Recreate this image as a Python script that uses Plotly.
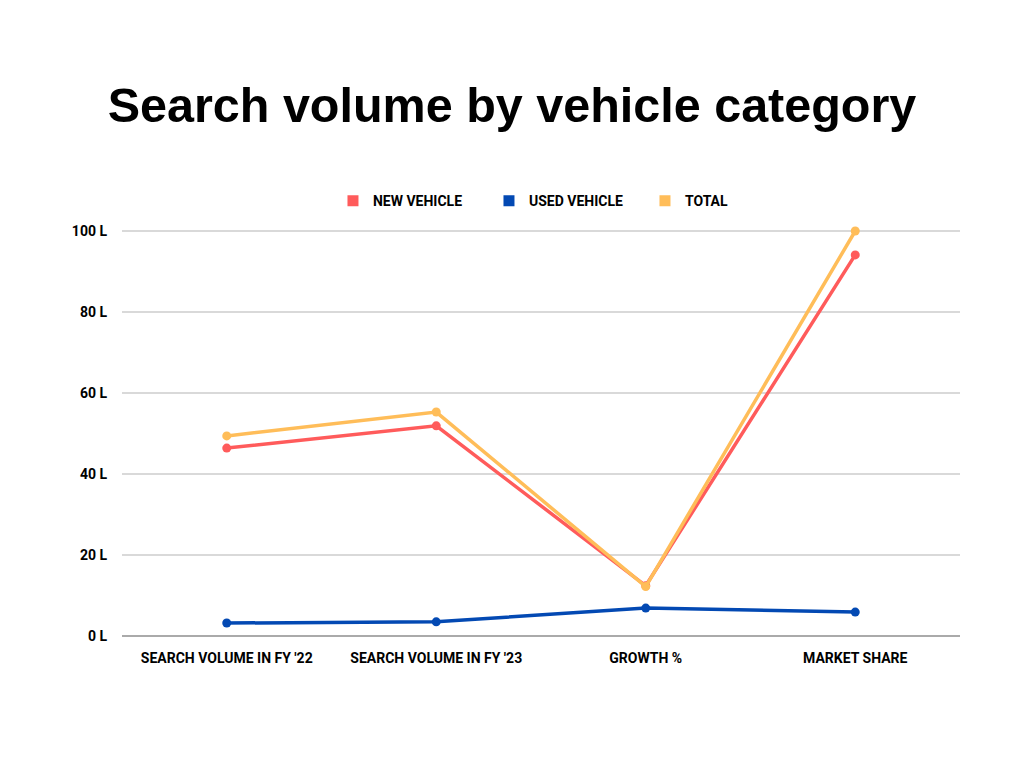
import plotly.graph_objects as go

categories = ["SEARCH VOLUME IN FY '22", "SEARCH VOLUME IN FY '23", "GROWTH %", "MARKET SHARE"]
new_vehicle = [46.4, 51.9, 12.4, 94.1]
used_vehicle = [3.2, 3.5, 6.9, 5.9]
total = [49.4, 55.3, 12.2, 100.0]
y_ticks = [0, 20, 40, 60, 80, 100]
y_tick_labels = ["0 L", "20 L", "40 L", "60 L", "80 L", "100 L"]

FONT = "Roboto, Liberation Sans, sans-serif"
series = [
    ("NEW VEHICLE", new_vehicle, "#ff5b5b"),
    ("USED VEHICLE", used_vehicle, "#0349b3"),
    ("TOTAL", total, "#ffbd59"),
]

fig = go.Figure()
for name, vals, color in series:
    fig.add_trace(go.Scatter(
        x=categories, y=vals, mode="lines+markers", name=name,
        line=dict(color=color, width=3.5), marker=dict(color=color, size=9),
        showlegend=False, cliponaxis=False, hoverinfo="x+y+name"))
for name, vals, color in series:
    fig.add_trace(go.Scatter(
        x=[None], y=[None], mode="markers", name=name,
        marker=dict(color=color, size=11, symbol="square"), showlegend=True))

fig.update_layout(
    width=1024, height=768,
    paper_bgcolor="white", plot_bgcolor="white",
    margin=dict(l=122, r=64, t=230, b=132),
    title=dict(text="<b>Search volume by vehicle category</b>", x=0.5, xanchor="center",
               y=0.863, yanchor="middle",
               font=dict(family="Liberation Sans, Arial, sans-serif", size=48.5, color="black")),
    legend=dict(orientation="h", x=0.531, xanchor="center", y=1.071, yanchor="middle",
                font=dict(family=FONT, size=14, color="black", weight="bold"),
                itemwidth=30, entrywidth=111, tracegroupgap=0),
    font=dict(family=FONT, color="black"),
)
fig.update_xaxes(type="category", range=[-0.5, 3.5], showgrid=False, ticks="",
                 showline=False, zeroline=False, ticklabelstandoff=12,
                 tickfont=dict(family=FONT, size=14, color="black", weight="bold"))
fig.update_yaxes(range=[0, 100.25], tickvals=y_ticks, ticktext=y_tick_labels,
                 showgrid=True, gridcolor="#d9d9d9", gridwidth=1.5,
                 zeroline=True, zerolinecolor="#aaaaaa", zerolinewidth=2,
                 ticks="", ticklabelstandoff=14,
                 tickfont=dict(family=FONT, size=14, color="black", weight="bold"))
fig.write_html("out.html")
